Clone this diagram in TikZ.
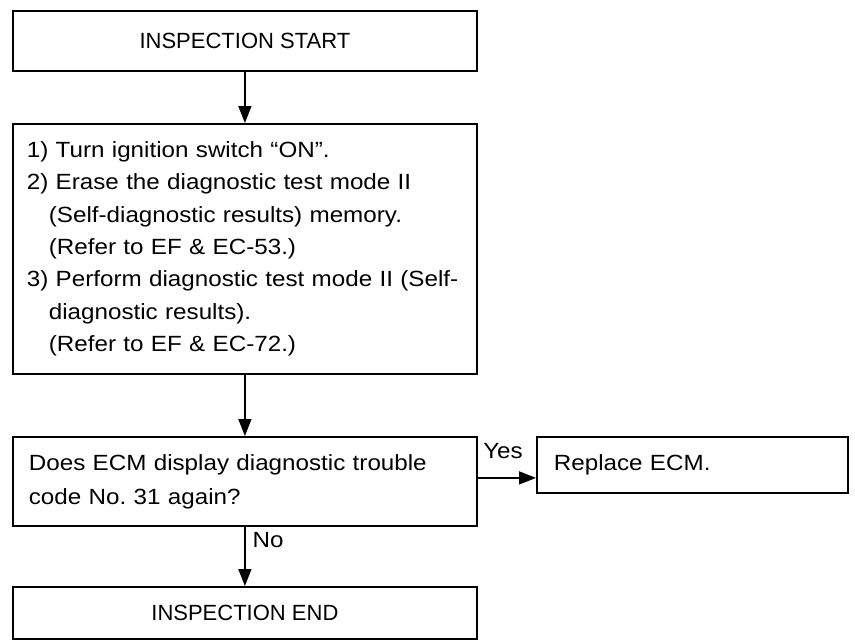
\documentclass[tikz,border=0pt]{standalone}
\usepackage{fontspec}
\setmainfont{Liberation Sans}[FakeStretch=1.1]
\newfontfamily\capsfont{Liberation Sans}
\usetikzlibrary{arrows.meta,calc}

\begin{document}
\begin{tikzpicture}[x=1pt,y=-1pt,
  box/.style={draw, line width=1.8pt, rectangle, anchor=north west, inner ysep=0pt},
  bodytext/.style={font=\fontsize{22pt}{32.4pt}\selectfont},
  headtext/.style={font=\capsfont\fontsize{22pt}{26pt}\selectfont},
  lbl/.style={font=\fontsize{22pt}{26pt}\selectfont, inner sep=0pt},
  arr/.style={line width=1.6pt, -{Triangle[length=17pt,width=13pt]}}
]
\fill[white] (0,0) rectangle (855,641);
\useasboundingbox (0,0) rectangle (855,641);

% process boxes
\node[box, headtext, minimum width=464pt, minimum height=60pt] (start) at (12,10)
  {INSPECTION START};

\node[box, bodytext, minimum width=464pt, minimum height=250pt,
      text width=436pt, inner xsep=14pt, align=left] (steps) at (12,123)
  {1) Turn ignition switch ``ON''.\\
   2) Erase the diagnostic test mode II\\
   \hspace*{22pt}(Self-diagnostic results) memory.\\
   \hspace*{22pt}(Refer to EF \& EC-53.)\\
   3) Perform diagnostic test mode II (Self-\\
   \hspace*{22pt}diagnostic results).\\
   \hspace*{22pt}(Refer to EF \& EC-72.)};

\node[box, font=\fontsize{22pt}{34pt}\selectfont, minimum width=464pt, minimum height=89pt,
      text width=432pt, inner xsep=16pt, align=left] (dec) at (12,436)
  {Does ECM display diagnostic trouble\\ code No.\ 31 again?};

\node[box, bodytext, minimum width=311pt, minimum height=56pt,
      text width=277pt, inner xsep=17pt, align=left] (rep) at (536,436)
  {Replace ECM.};

\node[box, headtext, minimum width=464pt, minimum height=52pt] (finish) at (12,586)
  {INSPECTION END};

% connectors
\draw[arr] (start) -- (steps);
\draw[arr] (steps) -- (dec);
\coordinate (yesA) at ($(dec.east)+(0,-3.5)$);
\draw[arr] (yesA) -- (yesA -| rep.west);
\draw[arr] (dec) -- (finish);

% branch labels
\node[lbl] (yes) at (503,451) {Yes};
\node[lbl] (no) at (268,540) {No};
\end{tikzpicture}
\end{document}
